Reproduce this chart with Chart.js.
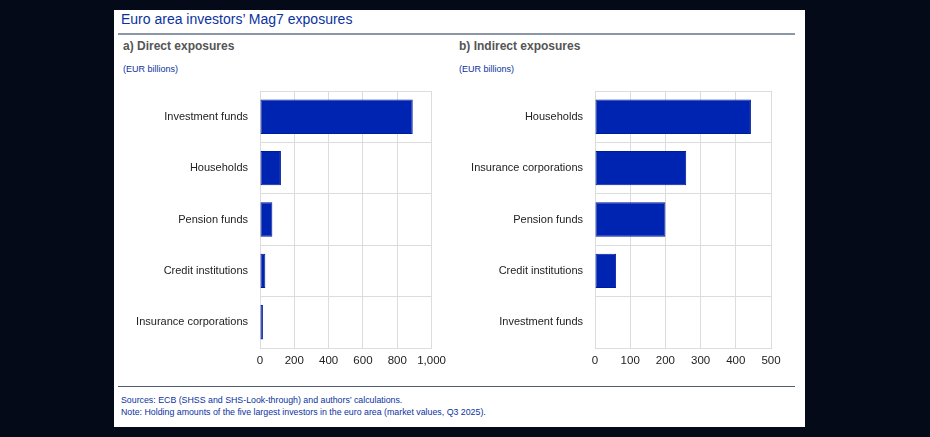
<!DOCTYPE html>
<html>
<head>
<meta charset="utf-8">
<script src="https://cdn.jsdelivr.net/npm/chart.js@4"></script>
<style>
  html, body { margin:0; padding:0; background:#040a18; width:930px; height:437px; overflow:hidden; }
  #panel { position:absolute; left:114px; top:10px; width:691px; height:417px; background:#fff; }
  .t { position:absolute; font-family:"Liberation Sans", Arial, sans-serif; white-space:nowrap; }
  #title { left:7px; top:1px; font-size:14px; color:#0a32a0; line-height:17px; }
  #line1 { position:absolute; left:4px; top:23px; width:677px; height:2px; background:#8c98a8; }
  #line2 { position:absolute; left:4px; top:376px; width:677px; height:1px; background:#4e5e70; }
  .sub { font-size:12px; font-weight:bold; color:#555; top:29px; line-height:14px; }
  .unit { font-size:9px; color:#0a32a0; top:54px; line-height:10px; }
  .foot { font-size:8.8px; color:#0a32a0; left:7px; line-height:10px; }
  canvas { position:absolute; }
</style>
</head>
<body>
<div id="panel">
  <div id="title" class="t">Euro area investors’ Mag7 exposures</div>
  <div id="line1"></div>
  <div class="t sub" style="left:9px;">a) Direct exposures</div>
  <div class="t sub" style="left:345px;">b) Indirect exposures</div>
  <div class="t unit" style="left:9px;">(EUR billions)</div>
  <div class="t unit" style="left:345px;">(EUR billions)</div>
  <div id="line2"></div>
  <div class="t foot" style="top:385px;">Sources: ECB (SHSS and SHS-Look-through) and authors’ calculations.</div>
  <div class="t foot" style="top:397px;">Note: Holding amounts of the five largest investors in the euro area (market values, Q3 2025).</div>
</div>
<canvas id="c1" style="left:120px; top:85px; width:332px; height:289px;" width="332" height="289"></canvas>
<canvas id="c2" style="left:455px; top:85px; width:336px; height:289px;" width="336" height="289"></canvas>
<script>
const directCategories = ["Investment funds", "Households", "Pension funds", "Credit institutions", "Insurance corporations"];
const directValues = [890, 122, 72, 31, 17];
const indirectCategories = ["Households", "Insurance corporations", "Pension funds", "Credit institutions", "Investment funds"];
const indirectValues = [443, 259, 200, 60, 0];
const directTicks = { min: 0, max: 1000, step: 200 };
const indirectTicks = { min: 0, max: 500, step: 100 };

Chart.defaults.font.family = '"Liberation Sans", Arial, sans-serif';
Chart.defaults.color = '#222';

function makeChart(id, cats, vals, tk) {
  return new Chart(document.getElementById(id), {
    type: 'bar',
    data: {
      labels: cats,
      datasets: [{
        data: vals,
        backgroundColor: '#0024b2',
        borderColor: '#001a9c',
        borderWidth: 1,
        borderSkipped: false,
        categoryPercentage: 1,
        barPercentage: 0.67
      }]
    },
    options: {
      indexAxis: 'y',
      responsive: false,
      animation: false,
      devicePixelRatio: 1,
      layout: { padding: { top: 6, right: 20, left: 0, bottom: 0 } },
      plugins: { legend: { display: false }, tooltip: { enabled: false } },
      scales: {
        x: {
          min: tk.min, max: tk.max,
          ticks: { stepSize: tk.step, font: { size: 11.5 }, color: '#222', padding: 6,
                   maxRotation: 0, minRotation: 0, autoSkip: false },
          grid: { color: '#dcdcdc', drawTicks: false, lineWidth: 1 },
          border: { color: '#dcdcdc' },
          afterFit: s => { s.height = 26; }
        },
        y: {
          ticks: { font: { size: 11 }, color: '#222', padding: 12 },
          grid: { color: '#dcdcdc', drawTicks: false, offset: true },
          border: { color: '#dcdcdc' },
          afterFit: s => { s.width = 140; s.paddingTop = 0; s.paddingBottom = 0; }
        }
      }
    }
  });
}
makeChart('c1', directCategories, directValues, directTicks);
makeChart('c2', indirectCategories, indirectValues, indirectTicks);
</script>
</body>
</html>
